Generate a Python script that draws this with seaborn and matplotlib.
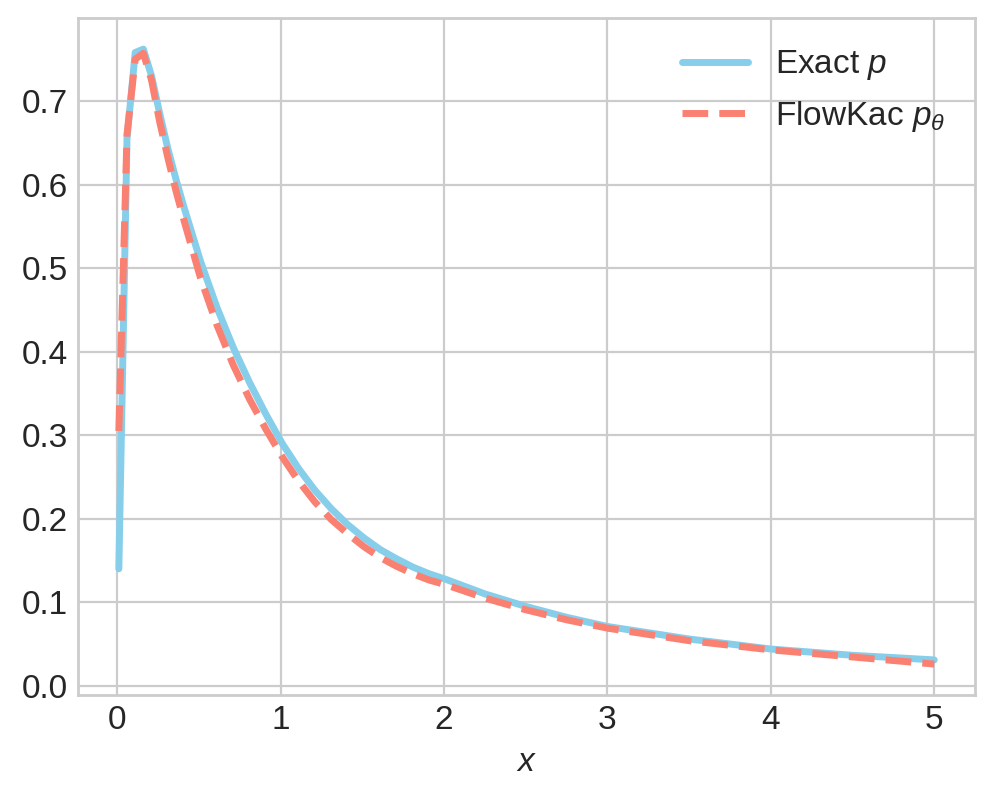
import numpy as np
import pandas as pd
import matplotlib
matplotlib.use("Agg")
import matplotlib.pyplot as plt
import seaborn as sns

# x grid (denser near the peak)
x_vals = [0.01, 0.06, 0.11, 0.16, 0.21, 0.26, 0.31, 0.36, 0.41, 0.46, 0.51,
          0.61, 0.71, 0.81, 0.91, 1.01, 1.11, 1.21, 1.31, 1.41, 1.51, 1.61,
          1.71, 1.81, 1.91, 2.01, 2.25, 2.5, 2.75, 3.0, 3.5, 4.0, 4.5, 5.0]

# Exact density p
exact_p = [0.140, 0.655, 0.758, 0.762, 0.730, 0.685, 0.643, 0.606, 0.572,
           0.540, 0.508, 0.453, 0.405, 0.363, 0.325, 0.290, 0.260, 0.234,
           0.212, 0.193, 0.177, 0.163, 0.152, 0.142, 0.134, 0.1275, 0.110,
           0.095, 0.082, 0.071, 0.056, 0.044, 0.0365, 0.031]

# FlowKac estimate p_theta
flowkac_p = [0.305, 0.660, 0.750, 0.757, 0.725, 0.675, 0.632, 0.592, 0.556,
             0.522, 0.488, 0.432, 0.384, 0.343, 0.307, 0.274, 0.245, 0.220,
             0.199, 0.182, 0.1665, 0.1535, 0.143, 0.134, 0.1265, 0.121, 0.105,
             0.091, 0.079, 0.069, 0.054, 0.043, 0.0345, 0.026]

df = pd.DataFrame({"x": x_vals, "exact": exact_p, "flowkac": flowkac_p})

plt.style.use("seaborn-v0_8-whitegrid")
plt.rcParams["font.family"] = ["Liberation Sans", "DejaVu Sans"]
plt.rcParams["mathtext.fontset"] = "custom"
plt.rcParams["mathtext.rm"] = "Liberation Sans"
plt.rcParams["mathtext.it"] = "Liberation Sans:italic"
plt.rcParams["axes.edgecolor"] = "#cccccc"
plt.rcParams["grid.color"] = "#cccccc"

fig, ax = plt.subplots(figsize=(4.98, 3.965), dpi=200)
fig.subplots_adjust(left=0.0783, right=0.979, top=0.977, bottom=0.1236)

sns.lineplot(data=df, x="x", y="exact", ax=ax, color="skyblue", lw=2.5,
             label="Exact $p$")
sns.lineplot(data=df, x="x", y="flowkac", ax=ax, color="salmon", lw=2.5,
             linestyle="--", label=r"FlowKac $p_\theta$")

for s in ax.spines.values():
    s.set_visible(True)
    s.set_color("#cccccc")
    s.set_linewidth(1.0)

ax.set_xlabel("$x$", fontsize=12, color="#262626")
ax.set_ylabel("")
ax.set_xticks([0, 1, 2, 3, 4, 5])
ax.set_yticks([0.0, 0.1, 0.2, 0.3, 0.4, 0.5, 0.6, 0.7])
ax.tick_params(labelsize=12, labelcolor="#262626")
ax.set_xlim(-0.24, 5.25)
ax.set_ylim(-0.011, 0.799)

leg = ax.legend(loc="upper right", fontsize=12, frameon=False)
for t in leg.get_texts():
    t.set_color("#262626")

plt.savefig("out.png", dpi=200)
